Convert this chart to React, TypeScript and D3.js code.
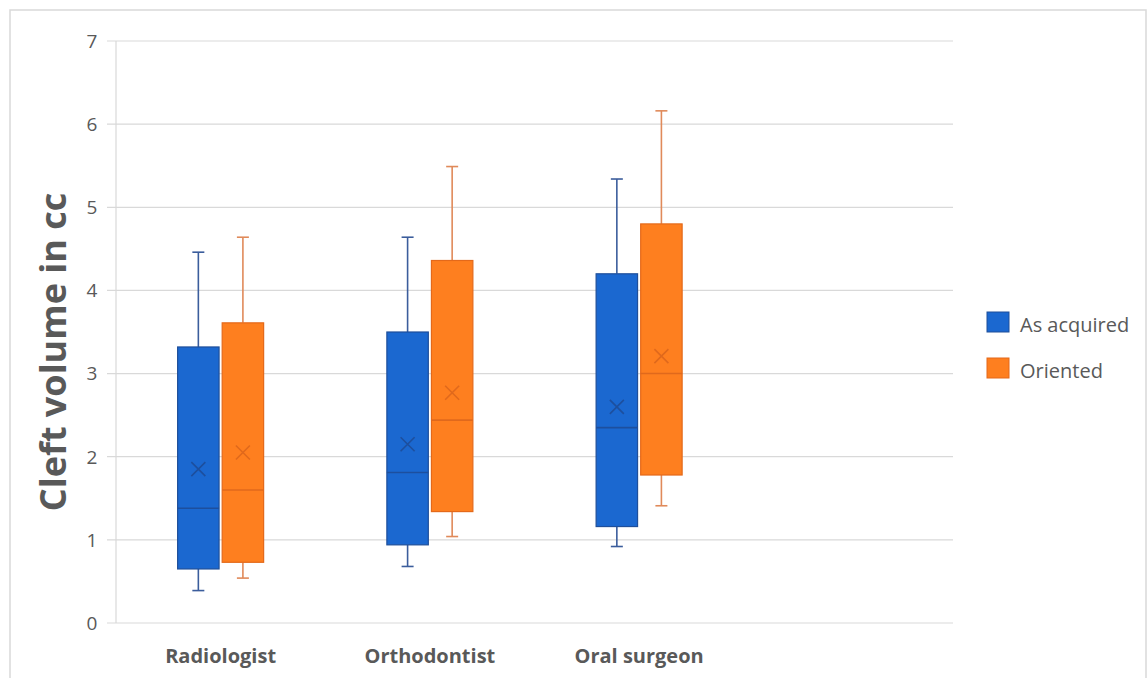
import * as d3 from "d3"

const categories = ["Radiologist", "Orthodontist", "Oral surgeon"]
const series = ["As acquired", "Oriented"]

const asAcquiredMin = [0.39, 0.68, 0.92]
const asAcquiredQ1 = [0.65, 0.94, 1.16]
const asAcquiredMedian = [1.38, 1.81, 2.35]
const asAcquiredQ3 = [3.32, 3.5, 4.2]
const asAcquiredMax = [4.46, 4.64, 5.34]
const asAcquiredMean = [1.85, 2.15, 2.6]

const orientedMin = [0.54, 1.04, 1.41]
const orientedQ1 = [0.73, 1.34, 1.78]
const orientedMedian = [1.6, 2.44, 3.0]
const orientedQ3 = [3.61, 4.36, 4.8]
const orientedMax = [4.64, 5.49, 6.16]
const orientedMean = [2.05, 2.77, 3.21]

const yTicks = [0, 1, 2, 3, 4, 5, 6, 7]

const width = 1148
const height = 678
const font = "'Open Sans', 'DejaVu Sans', sans-serif"

// Excel-ish look: fill, edge, whisker
const styles = [
  { fill: "#1b68d0", edge: "#1f4f9a", whisker: "#3b5d9c", mark: "#1d4f9e" },
  { fill: "#fe7f1f", edge: "#e4691a", whisker: "#e08a5a", mark: "#e0691c" },
]

export default function App() {
  const plotLeft = 116
  const plotRight = 953
  const y = d3.scaleLinear().domain([0, 7]).range([623, 41])

  // Excel leaves one empty category slot on the right
  const x = d3.scaleBand<string>()
    .domain([...categories, ""])
    .range([plotLeft, plotRight])

  const bw = x.bandwidth()
  const inner = d3.scaleBand<string>()
    .domain(series)
    .range([bw / 2 - 43, bw / 2 + 43])
    .paddingInner(0.07)

  const data = [
    { min: asAcquiredMin, q1: asAcquiredQ1, med: asAcquiredMedian, q3: asAcquiredQ3, max: asAcquiredMax, mean: asAcquiredMean },
    { min: orientedMin, q1: orientedQ1, med: orientedMedian, q3: orientedQ3, max: orientedMax, mean: orientedMean },
  ]

  const gridColor = "#d9d9d9"
  const textColor = "#595959"

  return (
    <svg width={width} height={height} style={{ position: "absolute", left: 0, top: 0, background: "#fff" }}>
      {/* chart border */}
      <rect x={10} y={10} width={1136} height={700} fill="none" stroke="#d9d9d9" strokeWidth={1.5} />

      {/* gridlines + y ticks */}
      {yTicks.map(t => (
        <g key={t}>
          <line x1={plotLeft - 9} x2={plotRight} y1={y(t)} y2={y(t)} stroke={gridColor} strokeWidth={1.2} />
          <text x={92} y={y(t)} dy="0.36em" textAnchor="middle" fontFamily={font} fontSize={19} fill={textColor}>
            {t}
          </text>
        </g>
      ))}
      <line x1={plotLeft} x2={plotLeft} y1={y(7)} y2={y(0)} stroke={gridColor} strokeWidth={1.2} />

      {/* y axis title */}
      <text
        transform={`translate(66, 352) rotate(-90)`}
        textAnchor="middle"
        fontFamily={font}
        fontSize={36}
        fontWeight={700}
        fill={textColor}
      >
        Cleft volume in cc
      </text>

      {/* boxes */}
      {categories.map((c, i) => (
        <g key={c} transform={`translate(${x(c)}, 0)`}>
          {series.map((s, k) => {
            const d = data[k]
            const st = styles[k]
            const bx = inner(s)!
            const w = inner.bandwidth()
            const cx = bx + w / 2
            const m = 7
            return (
              <g key={s}>
                <line x1={cx} x2={cx} y1={y(d.max[i])} y2={y(d.q3[i])} stroke={st.whisker} strokeWidth={1.6} />
                <line x1={cx} x2={cx} y1={y(d.q1[i])} y2={y(d.min[i])} stroke={st.whisker} strokeWidth={1.6} />
                <line x1={cx - 6} x2={cx + 6} y1={y(d.max[i])} y2={y(d.max[i])} stroke={st.whisker} strokeWidth={1.6} />
                <line x1={cx - 6} x2={cx + 6} y1={y(d.min[i])} y2={y(d.min[i])} stroke={st.whisker} strokeWidth={1.6} />
                <rect
                  x={bx}
                  y={y(d.q3[i])}
                  width={w}
                  height={y(d.q1[i]) - y(d.q3[i])}
                  fill={st.fill}
                  stroke={st.edge}
                  strokeWidth={1.2}
                />
                <line x1={bx} x2={bx + w} y1={y(d.med[i])} y2={y(d.med[i])} stroke={st.mark} strokeWidth={1.6} />
                <path
                  d={`M${cx - m},${y(d.mean[i]) - m}L${cx + m},${y(d.mean[i]) + m}M${cx + m},${y(d.mean[i]) - m}L${cx - m},${y(d.mean[i]) + m}`}
                  stroke={st.mark}
                  strokeWidth={1.6}
                  fill="none"
                />
              </g>
            )
          })}
          <text
            x={bw / 2}
            y={663}
            textAnchor="middle"
            fontFamily={font}
            fontSize={20}
            fontWeight={700}
            fill={textColor}
          >
            {c}
          </text>
        </g>
      ))}

      {/* legend */}
      {series.map((s, k) => (
        <g key={s} transform={`translate(987, ${312 + k * 46})`}>
          <rect width={22} height={20} fill={styles[k].fill} stroke={styles[k].edge} strokeWidth={1} />
          <text x={33} y={19.5} fontFamily={font} fontSize={20} fill={textColor}>
            {s}
          </text>
        </g>
      ))}
    </svg>
  )
}
